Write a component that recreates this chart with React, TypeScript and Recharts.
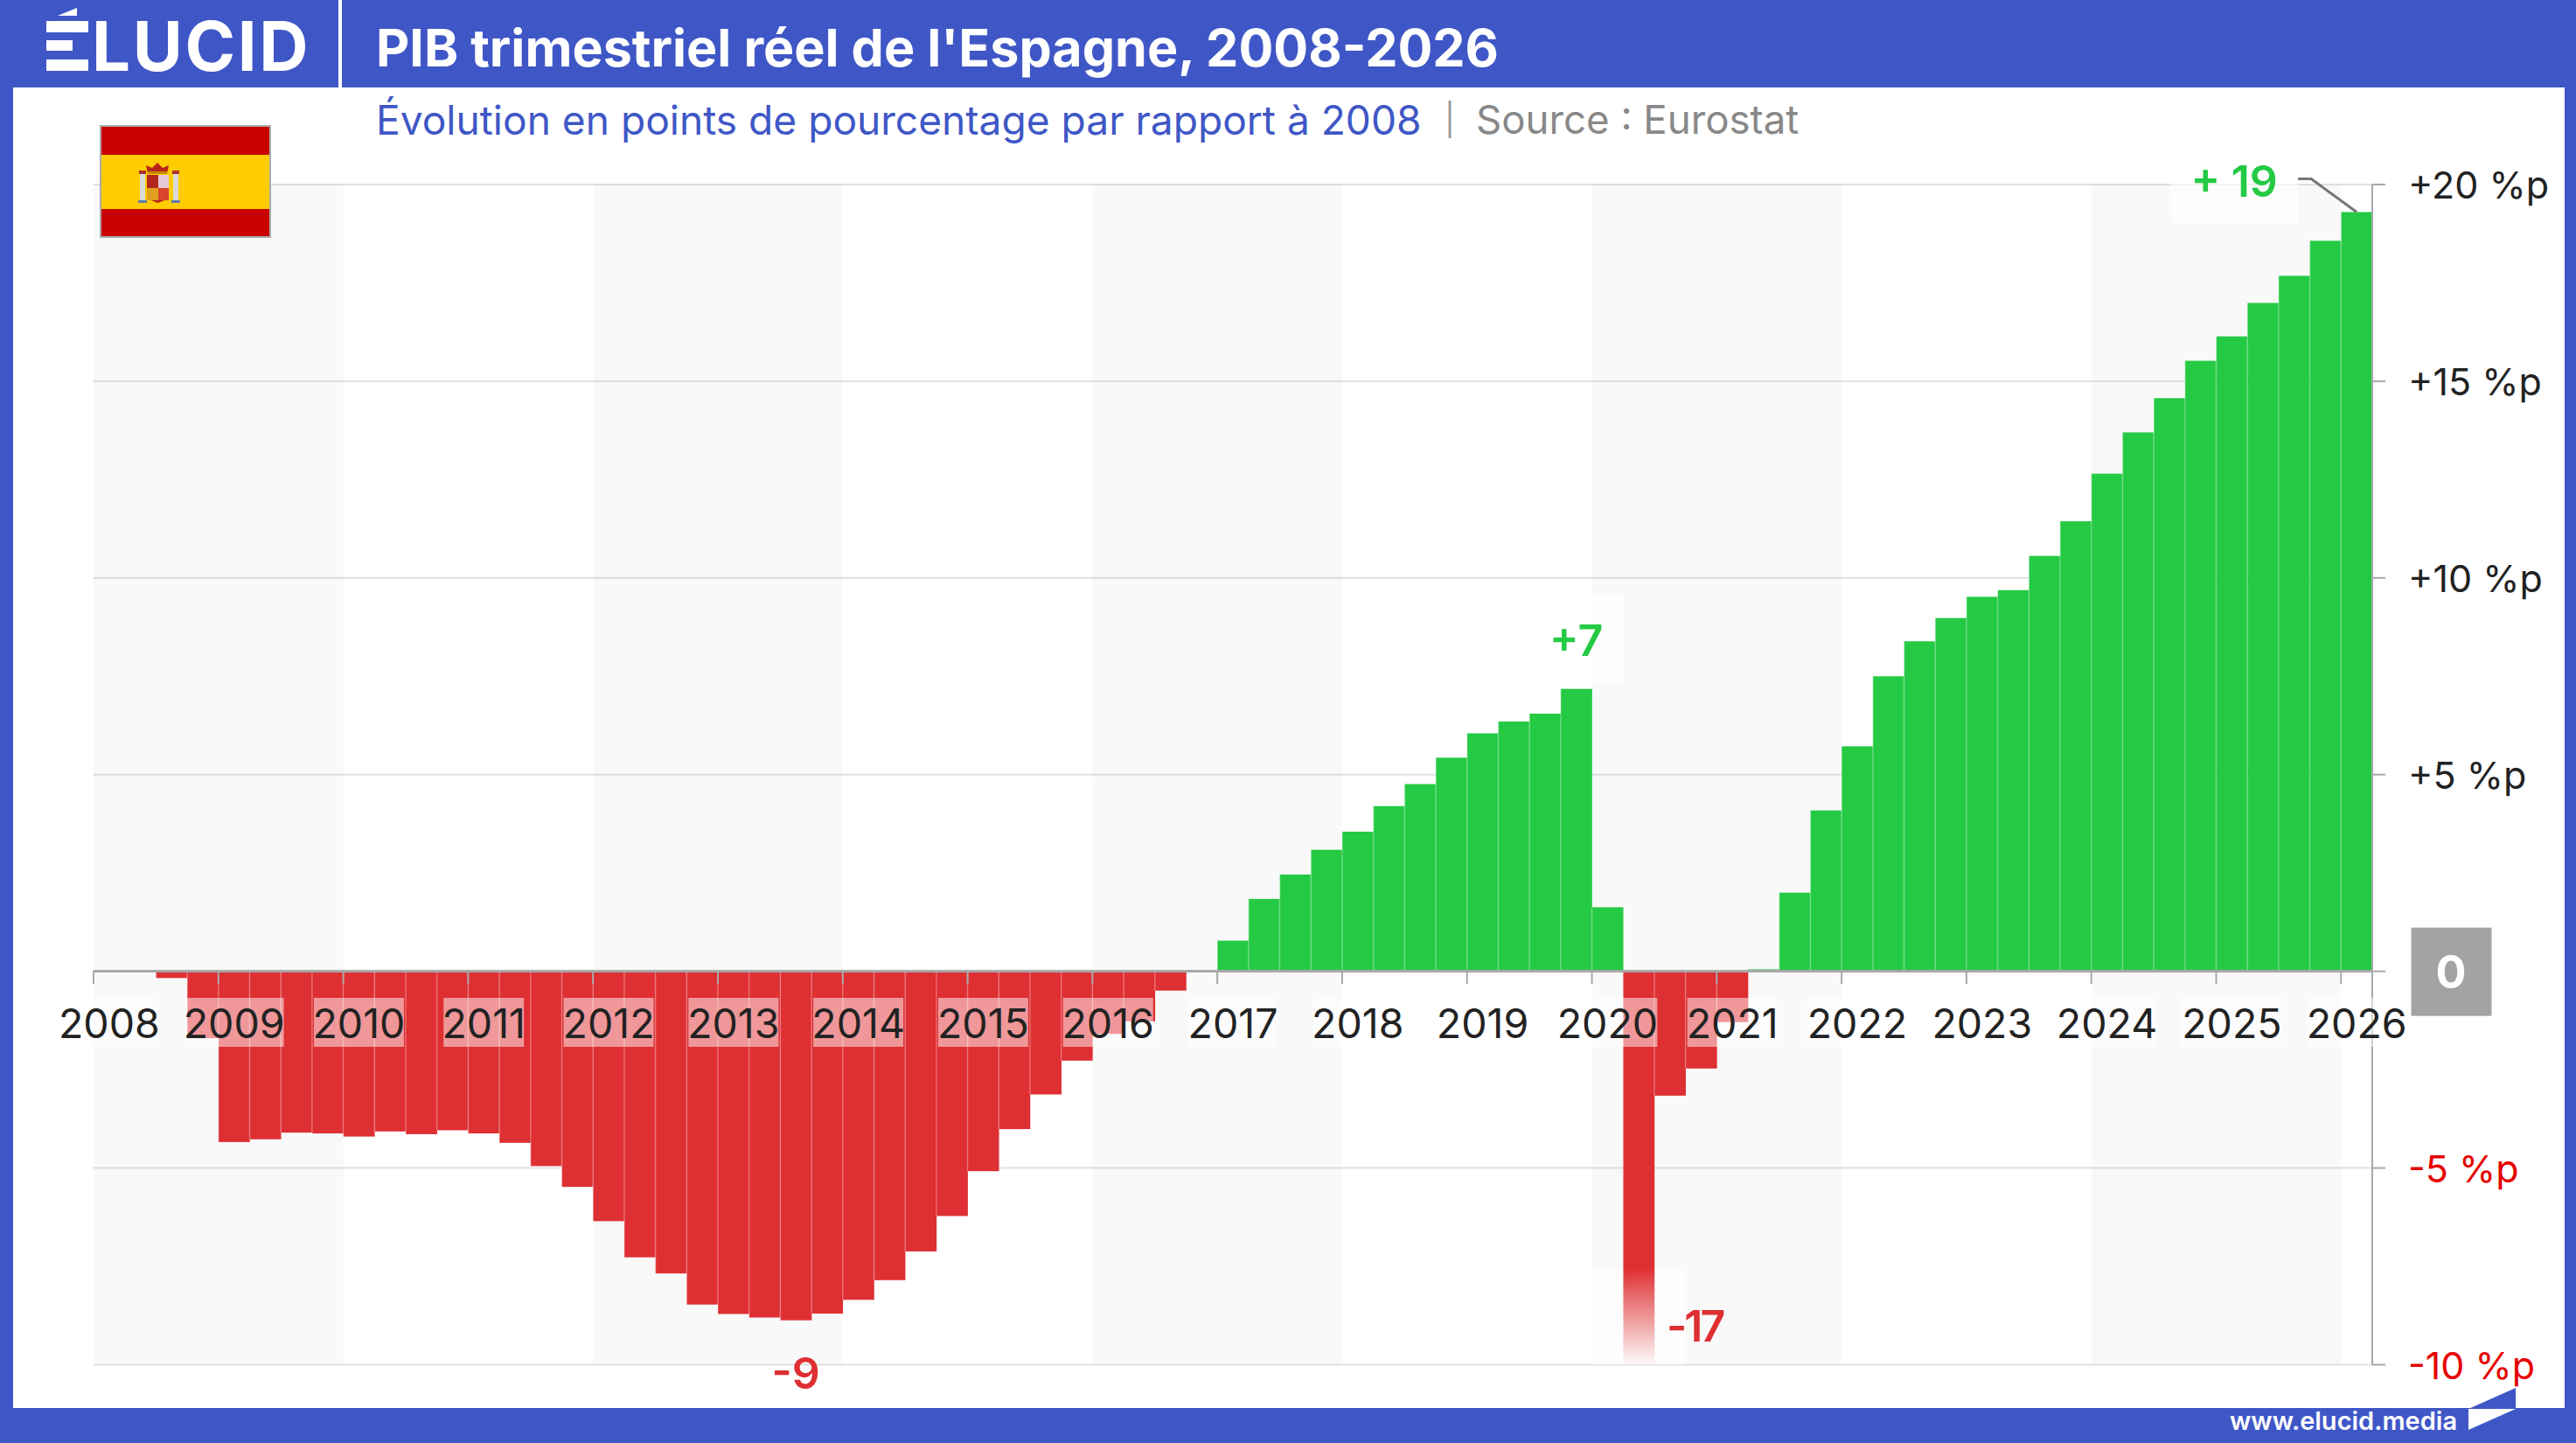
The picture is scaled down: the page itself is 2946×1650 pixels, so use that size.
import React from "react";
import {
  BarChart,
  Bar,
  Cell,
  XAxis,
  YAxis,
  CartesianGrid,
  ReferenceArea,
  ReferenceDot,
} from "recharts";

const W = 2946;
const H = 1650;
const BLUE = "#3F57C6";
const GREEN = "#25CA44";
const RED = "#DE2F32";
const FONT = "Inter, sans-serif";

const years = [
  2008, 2009, 2010, 2011, 2012, 2013, 2014, 2015, 2016, 2017, 2018, 2019, 2020,
  2021, 2022, 2023, 2024, 2025,
];
const quarters = ["T1", "T2", "T3", "T4"];

// one value per quarter, 2008 T1 -> 2026 T1, points vs 2008
const gdp = [
  0, 0.02, -0.17, -1.7,
  -4.34, -4.27, -4.1, -4.12,
  -4.2, -4.07, -4.14, -4.04,
  -4.12, -4.36, -4.95, -5.48,
  -6.35, -7.27, -7.68, -8.47,
  -8.71, -8.8, -8.87, -8.7,
  -8.35, -7.85, -7.12, -6.22,
  -5.08, -4.01, -3.13, -2.27,
  -1.59, -1.27, -0.49, 0.03,
  0.78, 1.84, 2.46, 3.09,
  3.55, 4.2, 4.76, 5.43,
  6.05, 6.35, 6.55, 7.18,
  1.63, -17.3, -3.16, -2.47,
  -1.29, 0.05, 2.0, 4.09,
  5.72, 7.5, 8.39, 8.98,
  9.52, 9.69, 10.56, 11.44,
  12.65, 13.7, 14.57, 15.52,
  16.14, 16.99, 17.68, 18.57,
  19.3,
];

const categories = [
  ...years.flatMap((y) => quarters.map((q) => `${y} ${q}`)),
  "2026 T1",
];
const rows = categories.map((name, i) => ({ name, value: gdp[i] }));

const yTicks = [-10, -5, 0, 5, 10, 15, 20];
const yLabels = { 20: "+20 %p", 15: "+15 %p", 10: "+10 %p", 5: "+5 %p", "-5": "-5 %p", "-10": "-10 %p" };
const bands = [2008, 2012, 2016, 2020, 2024];
const xTicks = [...years, 2026].map((y) => `${y} T1`);

const BarShape = (props) => {
  const { x, y, width, height, fill } = props;
  const top = Math.min(y, y + height);
  const h = Math.abs(height);
  return (
    <g>
      <rect x={x} y={top} width={width} height={h} fill={fill} />
      <line x1={x} x2={x} y1={top} y2={top + h} stroke="#fff" strokeOpacity={0.3} strokeWidth={1.5} />
    </g>
  );
};

const XTick = ({ x, payload }) => {
  const label = payload.value.slice(0, 4);
  const half = 2606 / 73 / 2;
  const narrow = (label.match(/1/g) || []).length;
  const boxW = 114 - narrow * 11;
  return (
    <g>
      <line x1={x - half} x2={x - half} y1={1110} y2={1125} stroke="#A8A8A8" strokeWidth={2} />
      <rect x={x - boxW / 2} y={1141} width={boxW} height={56} fill="#fff" fillOpacity={0.5} />
      <text x={x} y={1187} textAnchor="middle" fontFamily={FONT} fontSize={46.5} fill="#222">
        {label}
      </text>
    </g>
  );
};

const YTick = ({ y, payload }) => {
  const v = payload.value;
  if (v === 0) {
    return (
      <g>
        <rect x={2757.5} y={y - 50} width={92} height={101} fill="#A3A3A3" />
        <text x={2803} y={y + 19} textAnchor="middle" fontFamily={FONT} fontWeight={700} fontSize={52} fill="#fff">
          0
        </text>
      </g>
    );
  }
  return (
    <text x={2754} y={y + 16} fontFamily={FONT} fontSize={43} fill={v < 0 ? "#E60000" : "#222"}>
      {yLabels[v]}
    </text>
  );
};

// value labels, anchored on the bar they describe
const Note = ({ cx, cy, text, color, dx, dy, box, leader, tight }) => (
  <g>
    {box && <rect x={cx + box[0]} y={cy + box[1]} width={box[2]} height={box[3]} fill="#fff" fillOpacity={0.6} />}
    {leader && <path d={`M${cx} ${cy} L${cx - 52} ${cy - 38} L${cx - 67} ${cy - 38}`} stroke="#777" strokeWidth={3} fill="none" />}
    <text x={cx + dx} y={cy + dy} textAnchor="middle" fontFamily={FONT} fontWeight={600} fontSize={50} letterSpacing={tight ? -3 : 0} fill={color}>
      {text}
    </text>
  </g>
);

const Flag = () => (
  <svg style={{ position: "absolute", left: 114, top: 143 }} width={196} height={129} viewBox="0 0 196 129">
    <rect width={196} height={129} fill="#AAA" />
    <rect x={2} y={2} width={192} height={125} fill="#C90000" />
    <rect x={2} y={34} width={192} height={62} fill="#FFCC00" />
    <path d="M55 55 L53 46 L60 49 L66 43 L72 49 L79 46 L77 55 Z" fill="#B8261A" />
    <rect x={55} y={53} width={22} height={3} fill="#C98A00" />
    <path d="M54 57 h25 v20 q0 9 -12.5 12 q-12.5 -3 -12.5 -12 z" fill="#B3261E" />
    <rect x={67} y={57} width={12} height={15} fill="#E7C9D6" />
    <rect x={67} y={72} width={12} height={14} fill="#D8452A" />
    <rect x={54} y={72} width={13} height={14} fill="#E0A020" />
    <rect x={46} y={55} width={6} height={32} fill="#D9D9D9" />
    <rect x={84} y={55} width={6} height={32} fill="#D9D9D9" />
    <rect x={45} y={52} width={8} height={4} fill="#A8322A" />
    <rect x={83} y={52} width={8} height={4} fill="#A8322A" />
    <rect x={44} y={86} width={10} height={3} fill="#5E7FA8" />
    <rect x={82} y={86} width={10} height={3} fill="#5E7FA8" />
  </svg>
);

const Logo = () => (
  <svg style={{ position: "absolute", left: 0, top: 0 }} width={400} height={100}>
    <path d="M66 18 L88 9 L88 18 Z" fill="#fff" />
    <rect x={53} y={24} width={48} height={13} fill="#fff" />
    <rect x={53} y={46} width={30} height={12} fill="#fff" />
    <rect x={53} y={68} width={48} height={13} fill="#fff" />
    <text x={105} y={81} fontFamily={FONT} fontWeight={700} fontSize={78} letterSpacing={2.6} fill="#fff">
      LUCID
    </text>
    <rect x={387} y={0} width={4} height={100} fill="#fff" />
  </svg>
);

const absText = (left, top, size, weight, color, extra = {}) => ({
  position: "absolute" as const,
  left,
  top,
  fontFamily: FONT,
  fontSize: size,
  fontWeight: weight,
  color,
  lineHeight: 1,
  whiteSpace: "nowrap" as const,
  ...extra,
});

export default function App() {
  return (
    <div style={{ position: "absolute", left: 0, top: 0, width: W, height: H, background: BLUE, overflow: "hidden" }}>
      <div style={{ position: "absolute", left: 15, top: 100, width: 2918, height: 1510, background: "#fff" }} />
      <div style={{ position: "absolute", left: 0, top: 0 }}>
        <BarChart
          width={W}
          height={H}
          data={rows}
          margin={{ top: 211, right: 0, bottom: 0, left: 107 }}
          barCategoryGap={0}
          barGap={0}
        >
          <defs>
            <linearGradient id="fade" gradientUnits="userSpaceOnUse" x1={0} x2={0} y1={1450} y2={1562}>
              <stop offset="0" stopColor={RED} />
              <stop offset="1" stopColor={RED} stopOpacity={0} />
            </linearGradient>
          </defs>
          <CartesianGrid vertical={false} stroke="#E2E2E2" strokeWidth={2} />
          {bands.map((y) => (
            <ReferenceArea key={y} x1={`${y} T1`} x2={`${y + 1} T4`} y1={-10} y2={20} fill="#000" fillOpacity={0.025} stroke="none" />
          ))}
          <ReferenceArea x1="2020 T1" x2="2020 T3" y1={-10} y2={-7.6} fill="#fff" fillOpacity={0.6} stroke="none" ifOverflow="visible" />
          <XAxis
            dataKey="name"
            axisLine={false}
            tickLine={false}
            interval={0}
            ticks={xTicks}
            tick={<XTick />}
            height={89.5}
          />
          <YAxis
            orientation="right"
            domain={[-10, 20]}
            allowDataOverflow
            ticks={yTicks}
            width={233}
            axisLine={{ stroke: "#A8A8A8", strokeWidth: 2 }}
            tickLine={{ stroke: "#A8A8A8", strokeWidth: 2 }}
            tickSize={15}
            tick={<YTick />}
          />
          <Bar dataKey="value" isAnimationActive={false} shape={<BarShape />}>
            {rows.map((r) => (
              <Cell key={r.name} fill={r.value < -10 ? "url(#fade)" : r.value < 0 ? RED : GREEN} />
            ))}
          </Bar>
          <ReferenceDot
            x="2026 T1"
            y={19.3}
            r={0}
            ifOverflow="visible"
            shape={(p) => <Note {...p} text="+ 19" color={GREEN} dx={-140} dy={-17} box={[-213, -60, 146, 73]} leader />}
          />
          <ReferenceDot
            x="2019 T4"
            y={7.18}
            r={0}
            ifOverflow="visible"
            shape={(p) => <Note {...p} text="+7" color={GREEN} dx={0} dy={-38} box={[-55, -108, 110, 100]} />}
          />
          <ReferenceDot
            x="2013 T3"
            y={-8.87}
            r={0}
            ifOverflow="visible"
            shape={(p) => <Note {...p} text="-9" color={RED} dx={0} dy={78} />}
          />
          <ReferenceDot
            x="2020 T2"
            y={-9.1}
            r={0}
            ifOverflow="visible"
            shape={(p) => <Note {...p} text="-17" color={RED} dx={64} dy={14} tight />}
          />
        </BarChart>
      </div>
      <svg style={{ position: "absolute", left: 0, top: 0, pointerEvents: "none" }} width={W} height={H}>
        <line x1={107} x2={2713} y1={1110.5} y2={1110.5} stroke="#A8A8A8" strokeWidth={3} />
        <path d="M2823 1611 L2877 1587 L2877 1611 Z" fill={BLUE} />
        <path d="M2823 1611 L2877 1611 L2823 1635 Z" fill="#fff" />
      </svg>
      <Logo />
      <Flag />
      <div style={absText(430, 25, 59.2, 700, "#fff")}>PIB trimestriel réel de l'Espagne, 2008-2026</div>
      <div style={absText(430, 114, 46.1, 400, BLUE)}>Évolution en points de pourcentage par rapport à 2008</div>
      <div style={absText(1652, 119, 36, 400, "#999")}>|</div>
      <div style={absText(1688, 114, 45.6, 400, "#888")}>Source : Eurostat</div>
      <div style={absText(2550, 1610, 29, 600, "#fff")}>www.elucid.media</div>
    </div>
  );
}
